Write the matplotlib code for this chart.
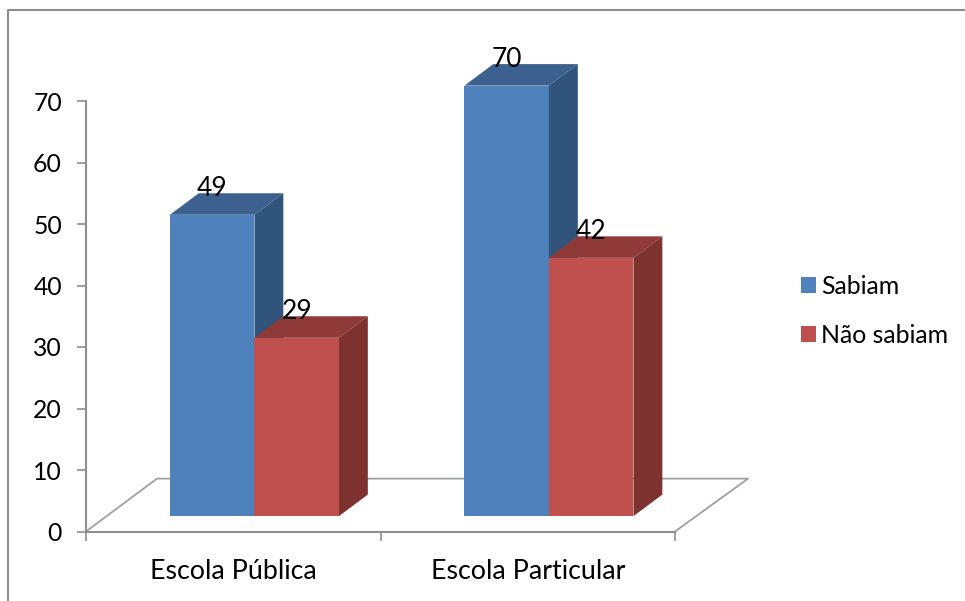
import matplotlib
matplotlib.use('Agg')
import matplotlib.pyplot as plt
from matplotlib.lines import Line2D
from matplotlib.patches import Patch

plt.rcParams['font.family'] = ['Lato', 'DejaVu Sans']

categories = ['Escola Pública', 'Escola Particular']
sabiam = [49, 70]
nao_sabiam = [29, 42]
series_names = ['Sabiam', 'Não sabiam']
yticks = [0, 10, 20, 30, 40, 50, 60, 70]

W, H = 965, 601
GRAY = '#8e8e8e'
FLOOR_GRAY = '#a0a0a0'

# colours: front, top, side
BLUE = ('#4f81bd', '#3c618f', '#31547c')
RED = ('#c0504d', '#8f3a38', '#7d3230')

BAR_W = 0.287
BAR_OFF = 0.285
BASE = 2.5       # bars stand a little in front of the axis
DEPTH_X = 0.098
DEPTH_Y = 3.5


def draw_bar(ax, left, value, colors):
    right = left + BAR_W
    top = BASE + value
    ax.bar(left, value, BAR_W, bottom=BASE, align='edge', color=colors[0],
           linewidth=0, clip_on=False, zorder=3)
    ax.fill([left, left + DEPTH_X, right + DEPTH_X, right],
            [top, top + DEPTH_Y, top + DEPTH_Y, top],
            color=colors[1], linewidth=0, clip_on=False, zorder=3)
    ax.fill([right, right + DEPTH_X, right + DEPTH_X, right],
            [BASE, BASE + DEPTH_Y, top + DEPTH_Y, top],
            color=colors[2], linewidth=0, clip_on=False, zorder=3)
    ax.annotate(str(value), (left + BAR_W / 2, top), xytext=(0, 13.6),
                textcoords='offset points', ha='center', va='baseline',
                fontsize=19, color='black', zorder=5, annotation_clip=False)


fig = plt.figure(figsize=(W / 100, H / 100), dpi=100)
ax = fig.add_axes([86 / W, 1 - 531.5 / H, (675 - 86) / W, (531.5 - 101) / H])
ax.set_xlim(0, 2)
ax.set_ylim(0, 70)

# outer chart frame, only the top and left edges are in view
fig.add_artist(Line2D([8 / W, 8 / W, 1], [0, 1 - 10 / H, 1 - 10 / H],
                      color=GRAY, lw=1.5))

# chart floor
ax.plot([0, 0.241, 2.248, 2], [0, 8.6, 8.6, 0], color=FLOOR_GRAY, lw=1.3,
        clip_on=False, zorder=1)

for i in range(len(categories)):
    draw_bar(ax, i + BAR_OFF, sabiam[i], BLUE)
    draw_bar(ax, i + BAR_OFF + BAR_W, nao_sabiam[i], RED)

for side in ['top', 'right']:
    ax.spines[side].set_visible(False)
for side in ['left', 'bottom']:
    ax.spines[side].set_color(GRAY)
    ax.spines[side].set_linewidth(1.5)

ax.set_yticks(yticks)
ax.set_xticks([0, 1, 2])
ax.set_xticklabels([])
ax.set_xticks([0.5, 1.5], minor=True)
ax.set_xticklabels(categories, minor=True)
ax.tick_params(axis='x', which='major', length=6.5, width=1.2, color=GRAY)
ax.tick_params(axis='x', which='minor', length=0, pad=20, labelsize=19.3)
ax.tick_params(axis='y', length=6.5, width=1.2, color=GRAY, pad=10.8, labelsize=17.8)

handles = [Patch(color=BLUE[0], linewidth=0), Patch(color=RED[0], linewidth=0)]
fig.legend(handles, series_names, loc='upper left',
           bbox_to_anchor=(801 / W, 1 - 275 / H), frameon=False, fontsize=17.9,
           handlelength=0.6, handleheight=0.6, handletextpad=0.22,
           labelspacing=1.03, borderaxespad=0, borderpad=0)

fig.savefig('out.png', dpi=100)
